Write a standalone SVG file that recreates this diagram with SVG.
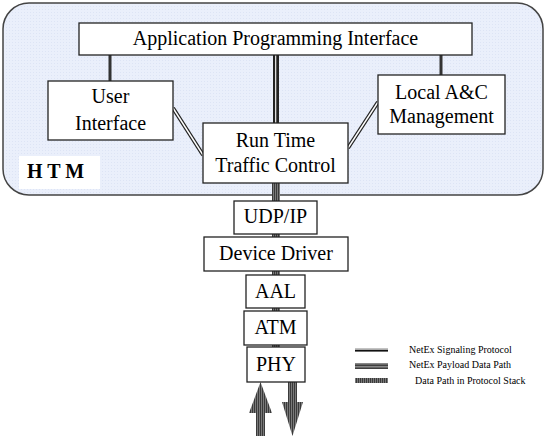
<svg xmlns="http://www.w3.org/2000/svg" width="545" height="436" viewBox="0 0 545 436">
<defs>
<pattern id="stripe" width="2" height="2" patternUnits="userSpaceOnUse">
<rect width="2" height="2" fill="#7a7a7a"/>
<rect width="1" height="2" fill="#3a3a3a"/>
</pattern>
<pattern id="bgtex" width="3" height="3" patternUnits="userSpaceOnUse">
<rect width="3" height="3" fill="#eaeffb"/>
<rect width="1" height="1" fill="#dde4f5"/>
</pattern>
</defs>
<style>
.box{fill:#fff;stroke:#222;stroke-width:1.3}
.t{font-family:"Liberation Serif","Times New Roman",Tinos,"DejaVu Serif",serif;font-size:20px;fill:#000;text-anchor:middle}
.lg{font-family:"Liberation Serif","Times New Roman",Tinos,"DejaVu Serif",serif;font-size:10px;fill:#000}
.b{font-family:"Liberation Serif","Times New Roman",Tinos,"DejaVu Serif",serif;font-size:20px;font-weight:bold;fill:#000}
.sig{stroke:#333;stroke-width:3;fill:none}
.dbl{stroke:#222;stroke-width:4;fill:none}
.dblin{stroke:#fff;stroke-width:1.4;fill:none}
</style>
<g id="htm">
<rect x="3" y="3" width="540" height="192" rx="26" ry="26" fill="url(#bgtex)" stroke="#444" stroke-width="1.5"/>
<rect x="19" y="156" width="81" height="33" fill="#fff"/>
<text class="b" x="27" y="178">H T M</text>
</g>
<g id="connectors">
<rect x="272" y="183" width="8" height="165" fill="url(#stripe)"/>
<line class="sig" x1="110" y1="55" x2="110" y2="81"/>
<line class="sig" x1="441" y1="55" x2="441" y2="75"/>
<rect x="273" y="55" width="6" height="68" fill="#222"/>
<rect x="275" y="55" width="1.3" height="68" fill="#ddd"/>
<line class="dbl" x1="173" y1="108" x2="203" y2="155"/>
<line class="dblin" x1="173" y1="108" x2="203" y2="155"/>
<line class="dbl" x1="378" y1="102" x2="348" y2="148"/>
<line class="dblin" x1="378" y1="102" x2="348" y2="148"/>
<path d="M256 436 V413 H249 L260.5 382 L272 413 H265 V436 Z" fill="url(#stripe)"/>
<path d="M288 382 V402 H282 L292.5 436 L303 402 H297 V382 Z" fill="url(#stripe)"/>
</g>
<g id="api">
<rect class="box" x="79" y="23" width="393" height="32"/>
<text class="t" x="275.5" y="45">Application Programming Interface</text>
</g>
<g id="user-interface">
<rect class="box" x="48" y="81" width="125" height="59"/>
<text class="t" x="110.5" y="103">User</text>
<text class="t" x="110.5" y="130">Interface</text>
</g>
<g id="local-ac">
<rect class="box" x="378" y="75" width="127" height="59"/>
<text class="t" x="441.5" y="99">Local A&amp;C</text>
<text class="t" x="441.5" y="123">Management</text>
</g>
<g id="runtime">
<rect class="box" x="203" y="123" width="145" height="60"/>
<text class="t" x="275.5" y="147">Run Time</text>
<text class="t" x="275.5" y="172">Traffic Control</text>
</g>
<g id="udpip">
<rect class="box" x="234" y="201" width="83" height="33"/>
<text class="t" x="275.5" y="223">UDP/IP</text>
</g>
<g id="device-driver">
<rect class="box" x="204" y="237" width="144" height="34"/>
<text class="t" x="276" y="260">Device Driver</text>
</g>
<g id="aal">
<rect class="box" x="246" y="275" width="59" height="33"/>
<text class="t" x="275.5" y="298">AAL</text>
</g>
<g id="atm">
<rect class="box" x="244" y="311" width="63" height="34"/>
<text class="t" x="275.5" y="334">ATM</text>
</g>
<g id="phy">
<rect class="box" x="247" y="347" width="58" height="35"/>
<text class="t" x="276" y="371">PHY</text>
</g>
<g id="legend">
<rect x="355" y="348.5" width="33" height="1.2" fill="#888"/>
<rect x="355" y="350" width="33" height="1.6" fill="#111"/>
<rect x="355" y="363" width="33" height="1.2" fill="#888"/>
<rect x="355" y="364.4" width="33" height="1.4" fill="#111"/>
<rect x="355" y="366" width="33" height="1.2" fill="#888"/>
<rect x="355" y="367.4" width="33" height="1.4" fill="#111"/>
<rect x="355" y="378" width="33" height="5" fill="url(#stripe)"/>
<text class="lg" x="409" y="353">NetEx Signaling Protocol</text>
<text class="lg" x="409" y="368">NetEx Payload Data Path</text>
<text class="lg" x="415" y="384">Data Path in Protocol Stack</text>
</g>
</svg>
